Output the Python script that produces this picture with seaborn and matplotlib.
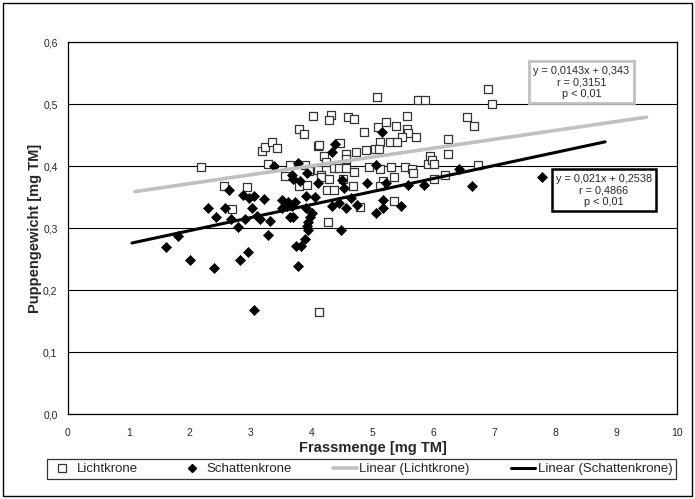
import numpy as np
import pandas as pd
import matplotlib.pyplot as plt
import seaborn as sns
from matplotlib.lines import Line2D
from matplotlib.patches import Rectangle

# Lichtkrone (open squares)
licht_x = [2.19, 3.19, 3.24, 3.35, 3.44, 3.28, 2.56, 2.94, 2.69, 5.07,
           5.75, 5.86, 4.03, 4.32, 4.29, 4.60, 4.70, 5.56, 3.80, 3.88,
           4.86, 5.09, 5.23, 5.38, 5.56, 5.58, 5.49, 5.71, 5.12, 5.28,
           5.41, 5.04, 5.11, 4.10, 4.47, 4.57, 4.73, 4.89, 4.21, 4.23,
           4.56, 3.64, 3.90, 3.96, 4.10, 4.16, 4.37, 4.45, 4.56, 4.69,
           4.94, 5.13, 5.31, 5.53, 5.65, 5.67, 5.91, 3.56, 3.80, 3.92,
           4.15, 4.29, 4.25, 4.37, 4.52, 4.68, 5.17, 5.36, 5.12, 4.79,
           5.35, 4.27, 4.12, 6.89, 6.96, 6.55, 6.66, 6.24, 6.24, 5.94,
           5.98, 6.01, 6.73, 6.01, 6.19, 4.12]
licht_y = [0.399, 0.425, 0.430, 0.439, 0.429, 0.403, 0.367, 0.366, 0.331, 0.512,
           0.506, 0.506, 0.480, 0.483, 0.474, 0.479, 0.476, 0.480, 0.459, 0.452,
           0.455, 0.463, 0.471, 0.464, 0.459, 0.454, 0.447, 0.446, 0.439, 0.439,
           0.438, 0.427, 0.428, 0.433, 0.437, 0.419, 0.423, 0.426, 0.416, 0.406,
           0.411, 0.402, 0.402, 0.392, 0.394, 0.385, 0.396, 0.396, 0.396, 0.390,
           0.398, 0.395, 0.398, 0.398, 0.395, 0.388, 0.403, 0.384, 0.367, 0.369,
           0.383, 0.379, 0.362, 0.362, 0.379, 0.368, 0.376, 0.382, 0.368, 0.334,
           0.344, 0.309, 0.164, 0.525, 0.500, 0.479, 0.465, 0.443, 0.419, 0.416,
           0.409, 0.404, 0.402, 0.379, 0.385, 0.434]

# Schattenkrone (filled diamonds)
schatten_x = [3.39, 2.64, 2.88, 2.98, 3.06, 3.22, 2.30, 2.58, 3.02, 2.43,
              2.68, 2.90, 3.10, 3.16, 3.32, 1.80, 2.79, 3.28, 1.61, 2.00,
              2.39, 2.82, 2.96, 3.05, 5.15, 4.39, 4.33, 3.77, 3.68, 3.70,
              3.81, 3.92, 4.10, 4.53, 4.50, 4.91, 5.06, 5.22, 5.58, 5.84,
              3.52, 3.61, 3.73, 3.51, 3.59, 3.68, 3.91, 4.06, 3.91, 4.01,
              4.34, 4.45, 4.57, 4.64, 4.75, 5.06, 5.17, 5.18, 5.46, 3.65,
              3.70, 3.98, 3.94, 3.92, 3.94, 3.90, 4.48, 3.74, 3.82, 3.78,
              6.42, 6.63, 7.78]
schatten_y = [0.400, 0.362, 0.353, 0.348, 0.351, 0.347, 0.333, 0.332, 0.332, 0.317,
              0.314, 0.314, 0.320, 0.314, 0.311, 0.287, 0.301, 0.289, 0.269, 0.248,
              0.236, 0.248, 0.261, 0.168, 0.455, 0.435, 0.423, 0.405, 0.385, 0.379,
              0.376, 0.389, 0.372, 0.364, 0.377, 0.372, 0.402, 0.372, 0.369, 0.369,
              0.345, 0.342, 0.342, 0.332, 0.335, 0.335, 0.352, 0.350, 0.332, 0.324,
              0.335, 0.341, 0.332, 0.348, 0.337, 0.324, 0.333, 0.345, 0.336, 0.317,
              0.318, 0.317, 0.310, 0.304, 0.296, 0.283, 0.297, 0.271, 0.271, 0.239,
              0.395, 0.367, 0.383]

# Excel trend lines
licht_coef = [0.0143, 0.343]
schatten_coef = [0.021, 0.2538]
licht_range = [1.1, 9.5]
schatten_range = [1.05, 8.82]

licht_eq = "y = 0,0143x + 0,343\nr = 0,3151\np < 0,01"
schatten_eq = "y = 0,021x + 0,2538\nr = 0,4866\np < 0,01"

sns.set_style("white")
plt.rcParams["font.family"] = ["Liberation Sans", "DejaVu Sans"]

fig = plt.figure(figsize=(6.95, 4.99), dpi=100)
ax = fig.add_axes([0.0978, 0.1703, 0.8763, 0.7455])

# scatter series
sns.scatterplot(x=licht_x, y=licht_y, marker="s", s=38, color="white",
                edgecolor="#333333", linewidth=0.9, ax=ax, zorder=3)
sns.scatterplot(x=schatten_x, y=schatten_y, marker="D", s=26, color="black",
                edgecolor="black", linewidth=0.5, ax=ax, zorder=4)

# trend lines
trend_l = pd.DataFrame({"x": licht_range})
trend_l["y"] = licht_coef[0] * trend_l["x"] + licht_coef[1]
trend_s = pd.DataFrame({"x": schatten_range})
trend_s["y"] = schatten_coef[0] * trend_s["x"] + schatten_coef[1]
sns.lineplot(data=trend_l, x="x", y="y", color="#c0c0c0", linewidth=2.6, ax=ax, zorder=5)
sns.lineplot(data=trend_s, x="x", y="y", color="black", linewidth=2.2, ax=ax, zorder=5)

# equation boxes
ax.text(8.43, 0.535, licht_eq, ha="center", va="center", fontsize=7.8, linespacing=1.2,
        zorder=6, bbox=dict(boxstyle="square,pad=0.4", fc="white", ec="#c0c0c0", lw=2))
ax.text(8.80, 0.361, schatten_eq, ha="center", va="center", fontsize=7.8, linespacing=1.2,
        zorder=6, bbox=dict(boxstyle="square,pad=0.4", fc="white", ec="black", lw=1.8))

ax.set_xlim(0, 10)
ax.set_ylim(0, 0.6)
ax.set_xticks(range(0, 11))
yt = np.round(np.arange(0, 0.61, 0.1), 1)
ax.set_yticks(yt)
ax.set_yticklabels([f"{v:.1f}".replace(".", ",") for v in yt])
ax.yaxis.grid(True, color="black", linewidth=0.8)
ax.xaxis.grid(False)
for sp in ax.spines.values():
    sp.set_color("black")
    sp.set_linewidth(0.9)
ax.tick_params(direction="out", length=4, width=0.8, color="black", labelsize=7.5)
ax.tick_params(axis="x", pad=6)
ax.set_xlabel("Frassmenge [mg TM]", fontsize=10.5, fontweight="bold", labelpad=2)
ax.set_ylabel("Puppengewicht [mg TM]", fontsize=10.5, fontweight="bold", labelpad=1)

# legend
handles = [
    Line2D([], [], marker="s", ls="none", mfc="white", mec="#333333", ms=5.5, mew=0.9),
    Line2D([], [], marker="D", ls="none", mfc="black", mec="black", ms=4.5),
    Line2D([], [], color="#c0c0c0", lw=2.6),
    Line2D([], [], color="black", lw=2.2),
]
labels = ["Lichtkrone", "Schattenkrone", "Linear (Lichtkrone)", "Linear (Schattenkrone)"]
leg = fig.legend(handles, labels, loc="center", ncol=4, mode="expand",
                 bbox_to_anchor=(40 / 695, 1 - 480 / 499, 643 / 695, 22 / 499),
                 fontsize=9.5, frameon=True, fancybox=False, edgecolor="black",
                 handlelength=1.8, handletextpad=0.2, borderpad=0.3, columnspacing=1.0)
leg.get_frame().set_linewidth(0.9)

# outer chart border
fig.patches.append(Rectangle((3 / 695, 3 / 499), 689 / 695, 493 / 499, transform=fig.transFigure,
                             fill=False, ec="black", lw=1))

fig.savefig("out.png", dpi=100)
